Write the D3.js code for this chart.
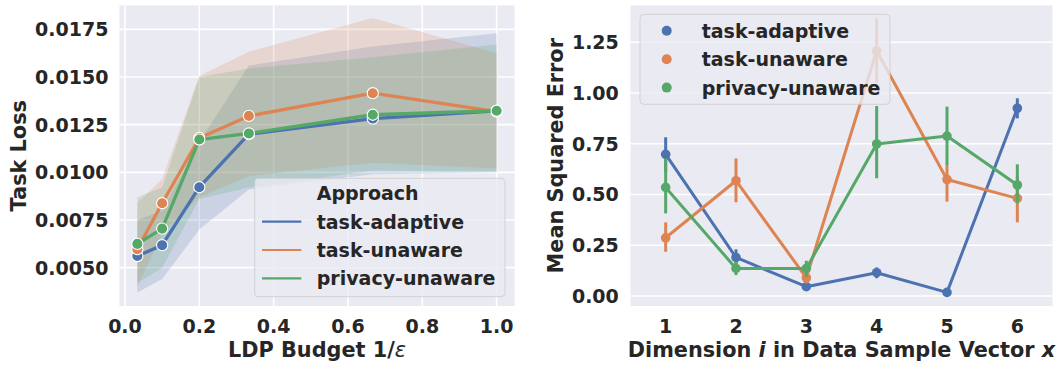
<!DOCTYPE html>
<html>
<head>
<meta charset="utf-8">
<script src="https://cdn.jsdelivr.net/npm/d3@7"></script>
<style>
  html, body { margin: 0; padding: 0; background: #ffffff; }
  svg { display: block; font-family: "DejaVu Sans", sans-serif; font-weight: bold; }
</style>
</head>
<body>
<svg id="chart" width="1062" height="367"></svg>
<script>
// ---- Left panel: task loss vs. LDP budget (mean line + confidence band) ----
const approaches = ["task-adaptive", "task-unaware", "privacy-unaware"];
const budgets = [0.0333, 0.1, 0.2, 0.3333, 0.6667, 1.0];

const lossAdaptive = [0.00561, 0.00618, 0.00922, 0.01200, 0.01282, 0.01322];
const lossUnaware  = [0.00597, 0.00838, 0.01180, 0.01296, 0.01415, 0.01318];
const lossPrivacy  = [0.00625, 0.00705, 0.01172, 0.01204, 0.01302, 0.01323];

const lowAdaptive  = [0.00370, 0.00440, 0.00700, 0.00910, 0.00990, 0.01000];
const highAdaptive = [0.00750, 0.00800, 0.01160, 0.01560, 0.01660, 0.01730];
const lowUnaware   = [0.00400, 0.00680, 0.00870, 0.00980, 0.01050, 0.01020];
const highUnaware  = [0.00840, 0.00965, 0.01505, 0.01633, 0.01810, 0.01624];
const lowPrivacy   = [0.00420, 0.00500, 0.00860, 0.00920, 0.01010, 0.01005];
const highPrivacy  = [0.00870, 0.00920, 0.01500, 0.01545, 0.01603, 0.01671];

const lossTicks = [0.0050, 0.0075, 0.0100, 0.0125, 0.0150, 0.0175];
const budgetTicks = [0.0, 0.2, 0.4, 0.6, 0.8, 1.0];

// ---- Right panel: per-dimension MSE (point estimate + error bar) ----
const dimensions = [1, 2, 3, 4, 5, 6];
const mseAdaptive = [0.698, 0.190, 0.046, 0.115, 0.018, 0.925];
const mseUnaware  = [0.287, 0.568, 0.090, 1.208, 0.574, 0.481];
const msePrivacy  = [0.535, 0.136, 0.136, 0.749, 0.788, 0.547];

const errLowAdaptive  = [0.612, 0.153, 0.034, 0.088, 0.008, 0.875];
const errHighAdaptive = [0.782, 0.230, 0.060, 0.141, 0.030, 0.974];
const errLowUnaware   = [0.218, 0.462, 0.062, 1.050, 0.465, 0.363];
const errHighUnaware  = [0.363, 0.678, 0.120, 1.368, 0.645, 0.590];
const errLowPrivacy   = [0.407, 0.103, 0.095, 0.580, 0.645, 0.457];
const errHighPrivacy  = [0.678, 0.169, 0.174, 0.936, 0.933, 0.649];

const mseTicks = [0.00, 0.25, 0.50, 0.75, 1.00, 1.25];

const palette = ["#4C72B0", "#DD8452", "#55A868"];
const textColor = "#262626";
const panelBg = "#EAEAF2";

const svg = d3.select("#chart");

const lossSeries = [
  { name: approaches[0], mean: lossAdaptive, lo: lowAdaptive, hi: highAdaptive },
  { name: approaches[1], mean: lossUnaware,  lo: lowUnaware,  hi: highUnaware },
  { name: approaches[2], mean: lossPrivacy,  lo: lowPrivacy,  hi: highPrivacy }
];
const mseSeries = [
  { name: approaches[0], mean: mseAdaptive, lo: errLowAdaptive, hi: errHighAdaptive },
  { name: approaches[1], mean: mseUnaware,  lo: errLowUnaware,  hi: errHighUnaware },
  { name: approaches[2], mean: msePrivacy,  lo: errLowPrivacy,  hi: errHighPrivacy }
];

const tickFont = 19;
const labelFont = 20.8;

// ================= Left panel =================
const L = { left: 119.4, right: 514.6, top: 5.5, bottom: 306 };
const xL = d3.scaleLinear().domain([-0.015, 1.0483]).range([L.left, L.right]);
const yL = d3.scaleLinear().domain([0.00299, 0.01875]).range([L.bottom, L.top]);

const gL = svg.append("g");
gL.append("rect").attr("x", L.left).attr("y", L.top)
  .attr("width", L.right - L.left).attr("height", L.bottom - L.top).attr("fill", panelBg);

// grid
gL.append("g").selectAll("line").data(budgetTicks).join("line")
  .attr("x1", d => xL(d)).attr("x2", d => xL(d))
  .attr("y1", L.top).attr("y2", L.bottom)
  .attr("stroke", "#fff").attr("stroke-width", 1.6);
gL.append("g").selectAll("line").data(lossTicks).join("line")
  .attr("x1", L.left).attr("x2", L.right)
  .attr("y1", d => yL(d)).attr("y2", d => yL(d))
  .attr("stroke", "#fff").attr("stroke-width", 1.6);

// confidence bands
const area = d3.area()
  .x((d, i) => xL(budgets[i]))
  .y0(d => yL(d[0])).y1(d => yL(d[1]));
lossSeries.forEach((s, k) => {
  gL.append("path")
    .attr("d", area(s.lo.map((v, i) => [v, s.hi[i]])))
    .attr("fill", palette[k]).attr("fill-opacity", 0.2).attr("stroke", "none");
});

// mean lines with markers
const line = d3.line().x((d, i) => xL(budgets[i])).y(d => yL(d));
lossSeries.forEach((s, k) => {
  gL.append("path").attr("d", line(s.mean))
    .attr("fill", "none").attr("stroke", palette[k]).attr("stroke-width", 3.3)
    .attr("stroke-linejoin", "round").attr("stroke-linecap", "round");
  gL.append("g").selectAll("circle").data(s.mean).join("circle")
    .attr("cx", (d, i) => xL(budgets[i])).attr("cy", d => yL(d)).attr("r", 5.6)
    .attr("fill", palette[k]).attr("stroke", "#fff").attr("stroke-width", 1.1);
});

// tick labels
gL.append("g").selectAll("text").data(lossTicks).join("text")
  .attr("x", L.left - 11).attr("y", d => yL(d) + 6.9)
  .attr("text-anchor", "end").attr("font-size", tickFont).attr("fill", textColor)
  .text(d => d3.format(".4f")(d));
gL.append("g").selectAll("text").data(budgetTicks).join("text")
  .attr("x", d => xL(d)).attr("y", 333.3)
  .attr("text-anchor", "middle").attr("font-size", tickFont).attr("fill", textColor)
  .text(d => d3.format(".1f")(d));

// axis labels
const xLab = gL.append("text").attr("x", (L.left + L.right) / 2).attr("y", 357)
  .attr("text-anchor", "middle").attr("font-size", labelFont).attr("fill", textColor);
xLab.append("tspan").text("LDP Budget 1/");
xLab.append("tspan").attr("font-style", "italic").attr("font-weight", "normal").text("ε");
gL.append("text")
  .attr("transform", `translate(25.5,${(L.top + L.bottom) / 2}) rotate(-90)`)
  .attr("text-anchor", "middle").attr("font-size", labelFont).attr("fill", textColor)
  .text("Task Loss");

// legend
const legL = gL.append("g");
legL.append("rect").attr("x", 254.7).attr("y", 178.3).attr("width", 250.3).attr("height", 118.4)
  .attr("rx", 4).attr("fill", panelBg).attr("fill-opacity", 0.8)
  .attr("stroke", "#cccccc").attr("stroke-opacity", 0.8).attr("stroke-width", 1);
legL.append("text").attr("x", 316.7).attr("y", 193.3 + 6.9)
  .attr("font-size", tickFont).attr("fill", textColor).text("Approach");
approaches.forEach((name, k) => {
  const cy = 221.7 + k * 28.3;
  legL.append("line").attr("x1", 262).attr("x2", 301.3).attr("y1", cy).attr("y2", cy)
    .attr("stroke", palette[k]).attr("stroke-width", 2.2);
  legL.append("text").attr("x", 316.7).attr("y", cy + 6.8)
    .attr("font-size", tickFont).attr("fill", textColor).text(name);
});

// ================= Right panel =================
const R = { left: 630.5, right: 1052.5, top: 5.5, bottom: 306 };
const xR = d3.scalePoint().domain(dimensions).range([R.left, R.right]).padding(0.5);
const yR = d3.scaleLinear().domain([-0.049, 1.431]).range([R.bottom, R.top]);

const gR = svg.append("g");
gR.append("rect").attr("x", R.left).attr("y", R.top)
  .attr("width", R.right - R.left).attr("height", R.bottom - R.top).attr("fill", panelBg);
gR.append("g").selectAll("line").data(mseTicks).join("line")
  .attr("x1", R.left).attr("x2", R.right)
  .attr("y1", d => yR(d)).attr("y2", d => yR(d))
  .attr("stroke", "#fff").attr("stroke-width", 1.6);

const lineR = d3.line().x((d, i) => xR(dimensions[i])).y(d => yR(d));
mseSeries.forEach((s, k) => {
  const g = gR.append("g");
  g.append("path").attr("d", lineR(s.mean))
    .attr("fill", "none").attr("stroke", palette[k]).attr("stroke-width", 3)
    .attr("stroke-linejoin", "round");
  g.selectAll("line.err").data(s.mean).join("line").attr("class", "err")
    .attr("x1", (d, i) => xR(dimensions[i])).attr("x2", (d, i) => xR(dimensions[i]))
    .attr("y1", (d, i) => yR(s.lo[i])).attr("y2", (d, i) => yR(s.hi[i]))
    .attr("stroke", palette[k]).attr("stroke-width", 3);
  g.selectAll("circle").data(s.mean).join("circle")
    .attr("cx", (d, i) => xR(dimensions[i])).attr("cy", d => yR(d)).attr("r", 4.8)
    .attr("fill", palette[k]);
});

gR.append("g").selectAll("text").data(mseTicks).join("text")
  .attr("x", R.left - 11.7).attr("y", d => yR(d) + 6.9)
  .attr("text-anchor", "end").attr("font-size", tickFont).attr("fill", textColor)
  .text(d => d3.format(".2f")(d));
gR.append("g").selectAll("text").data(dimensions).join("text")
  .attr("x", d => xR(d)).attr("y", 332.7)
  .attr("text-anchor", "middle").attr("font-size", tickFont).attr("fill", textColor)
  .text(d => d);

const xLabR = gR.append("text").attr("x", (R.left + R.right) / 2).attr("y", 357)
  .attr("text-anchor", "middle").attr("font-size", labelFont).attr("fill", textColor);
xLabR.append("tspan").text("Dimension ");
xLabR.append("tspan").attr("font-style", "italic").text("i");
xLabR.append("tspan").text(" in Data Sample Vector ");
xLabR.append("tspan").attr("font-style", "italic").text("x");
gR.append("text")
  .attr("transform", `translate(562.5,${(R.top + R.bottom) / 2}) rotate(-90)`)
  .attr("text-anchor", "middle").attr("font-size", labelFont).attr("fill", textColor)
  .text("Mean Squared Error");

const legR = gR.append("g");
legR.append("rect").attr("x", 640).attr("y", 14.3).attr("width", 250).attr("height", 90)
  .attr("rx", 4).attr("fill", panelBg).attr("fill-opacity", 0.8)
  .attr("stroke", "#cccccc").attr("stroke-opacity", 0.8).attr("stroke-width", 1);
approaches.forEach((name, k) => {
  const cy = 30.8 + k * 28.4;
  legR.append("circle").attr("cx", 666.7).attr("cy", cy).attr("r", 5).attr("fill", palette[k]);
  legR.append("text").attr("x", 701.7).attr("y", cy + 7)
    .attr("font-size", tickFont).attr("fill", textColor).text(name);
});
</script>
</body>
</html>
